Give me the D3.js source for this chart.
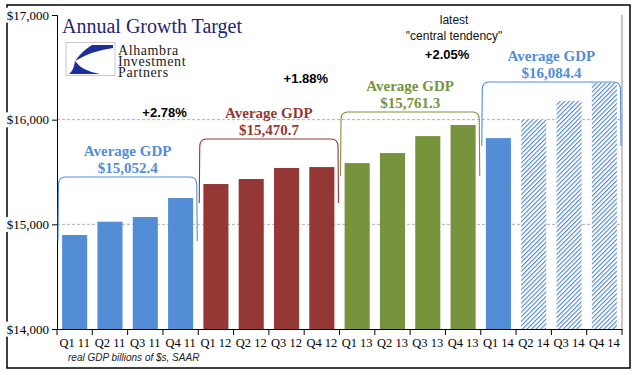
<!DOCTYPE html>
<html>
<head>
<meta charset="utf-8">
<script src="https://cdn.jsdelivr.net/npm/d3@7"></script>
<style>
  body { margin: 0; background: #fff; }
  svg { display: block; }
</style>
</head>
<body>
<div id="chart"></div>
<script>
// quarterly real GDP, billions of 2009 $
const quarters = ["Q1 11", "Q2 11", "Q3 11", "Q4 11", "Q1 12", "Q2 12", "Q3 12", "Q4 12",
                  "Q1 13", "Q2 13", "Q3 13", "Q4 13", "Q1 14", "Q2 14", "Q3 14", "Q4 14"];
const gdp = [14898, 15025, 15070, 15251, 15385, 15433, 15538, 15547,
             15585, 15681, 15843, 15949, 15824, 16003, 16180, 16352];
const projected = ["Q2 14", "Q3 14", "Q4 14"];
const groupAverages = ["$15,052.4", "$15,470.7", "$15,761.3", "$16,084.4"];
const growthLabels = ["+2.78%", "+1.88%", "+2.05%"];
const yTicks = [14000, 15000, 16000, 17000];

const groupColors = ["#538dd5", "#953735", "#77933c", "#538dd5"];
// where the "Average GDP" labels sit, in GDP units
const labelLevel = [15653, 16016, 16274, 16560];

const width = 641, height = 375;
const svg = d3.select("#chart").append("svg")
    .attr("width", width)
    .attr("height", height);

const defs = svg.append("defs");
const hatch = defs.append("pattern")
    .attr("id", "hatch")
    .attr("patternUnits", "userSpaceOnUse")
    .attr("width", 3.2)
    .attr("height", 3.2)
    .attr("patternTransform", "rotate(45)");
hatch.append("rect").attr("width", 3.2).attr("height", 3.2).attr("fill", "#fff");
hatch.append("line")
    .attr("x1", 0).attr("y1", 0).attr("x2", 0).attr("y2", 3.2)
    .attr("stroke", "#4f86cf").attr("stroke-width", 2.2);

// outer frame
svg.append("rect")
    .attr("x", 7).attr("y", 5)
    .attr("width", 623).attr("height", 363)
    .attr("fill", "#fff")
    .attr("stroke", "#000")
    .attr("stroke-width", 1.5);

const x = d3.scaleBand()
    .domain(quarters)
    .range([57, 622])
    .paddingInner(0.29)
    .paddingOuter(0.145);

const y = d3.scaleLinear()
    .domain([14000, 17000])
    .range([329, 15]);

const groupIndex = i => Math.floor(i / 4);

// gridlines
svg.append("g")
    .selectAll("line")
    .data(yTicks.filter(t => t > 14000 && t < 17000))
    .enter().append("line")
    .attr("x1", 57).attr("x2", 622)
    .attr("y1", d => y(d)).attr("y2", d => y(d))
    .attr("stroke", "#b0b0b0")
    .attr("stroke-dasharray", "3,2");

// plot area right edge
svg.append("line")
    .attr("x1", 622).attr("x2", 622)
    .attr("y1", y(17000)).attr("y2", y(14000))
    .attr("stroke", "#8c8c8c");

// bars
svg.append("g")
    .selectAll("rect")
    .data(quarters)
    .enter().append("rect")
    .attr("x", d => x(d))
    .attr("width", x.bandwidth())
    .attr("y", (d, i) => y(gdp[i]))
    .attr("height", (d, i) => y(14000) - y(gdp[i]))
    .attr("fill", (d, i) => projected.includes(d) ? "url(#hatch)" : groupColors[groupIndex(i)]);

// y axis
const yAxis = svg.append("g")
    .attr("transform", "translate(57,0)")
    .call(d3.axisLeft(y).tickValues(yTicks).tickSize(5).tickPadding(4)
        .tickFormat(d => "$" + d3.format(",")(d)));
yAxis.select(".domain").attr("stroke", "#000");
yAxis.selectAll("text")
    .attr("font-family", "'Liberation Serif', serif")
    .attr("font-size", 13)
    .attr("fill", "#000")
    .attr("x", -8)
    .each(function () {
        const b = this.getBBox();
        d3.select(this.parentNode).insert("rect", "text")
            .attr("x", b.x - 1).attr("y", b.y)
            .attr("width", b.width + 2).attr("height", b.height)
            .attr("fill", "#fff");
    });

// x axis
const xAxis = svg.append("g")
    .attr("transform", `translate(0,${y(14000)})`)
    .call(d3.axisBottom(x).tickSize(0).tickPadding(9));
xAxis.select(".domain").attr("stroke", "#000");
xAxis.selectAll("text")
    .attr("font-family", "'Liberation Serif', serif")
    .attr("font-size", 12.5)
    .attr("fill", "#000");
xAxis.append("g")
    .selectAll("line")
    .data(d3.range(quarters.length + 1))
    .enter().append("line")
    .attr("x1", i => 57 + i * x.step())
    .attr("x2", i => 57 + i * x.step())
    .attr("y1", 0).attr("y2", 6)
    .attr("stroke", "#000");

// group brackets and average labels
groupAverages.forEach((label, g) => {
    const first = quarters[g * 4], last = quarters[g * 4 + 3];
    const x0 = x(first) - x.step() * x.paddingInner() / 2 + 1;
    const x1 = x(last) + x.bandwidth() + x.step() * x.paddingInner() / 2 - 1;
    const base = y(labelLevel[g]);
    const top = base + 21, bottom = top + 64, r = 7;
    svg.append("path")
        .attr("d", `M${x0},${bottom} L${x0 + 0.5},${top + r} Q${x0 + 1},${top} ${x0 + r},${top}` +
                   ` L${x1 - r},${top} Q${x1 - 1},${top} ${x1 - 0.5},${top + r} L${x1},${bottom}`)
        .attr("fill", "none")
        .attr("stroke", groupColors[g])
        .attr("stroke-width", 1.1);
    const cx = (x0 + x1) / 2;
    const t = svg.append("text")
        .attr("x", cx)
        .attr("text-anchor", "middle")
        .attr("font-family", "'Liberation Serif', serif")
        .attr("font-weight", "bold")
        .attr("font-size", 15)
        .attr("fill", groupColors[g]);
    t.append("tspan").attr("x", cx).attr("y", base).text("Average GDP");
    t.append("tspan").attr("x", cx).attr("y", base + 17).text(label);
});

// growth rates between groups
const growthY = [117, 83, 59];
growthLabels.forEach((label, i) => {
    const q = quarters[i * 4 + 3];
    svg.append("text")
        .attr("x", x(q) + x.bandwidth() / 2 - 16)
        .attr("y", growthY[i])
        .attr("text-anchor", "middle")
        .attr("font-family", "'Liberation Sans', Arial, sans-serif")
        .attr("font-weight", "bold")
        .attr("font-size", 13)
        .attr("fill", "#000")
        .text(label);
});

const noteX = x("Q4 13") + x.bandwidth() / 2 - 9;
const note = svg.append("text")
    .attr("text-anchor", "middle")
    .attr("font-family", "'Liberation Sans', Arial, sans-serif")
    .attr("font-size", 12)
    .attr("fill", "#111");
note.append("tspan").attr("x", noteX).attr("y", 24).text("latest");
note.append("tspan").attr("x", noteX).attr("y", 40).text("\"central tendency\"");

// title
svg.append("text")
    .attr("x", 62).attr("y", 33)
    .attr("font-family", "'Liberation Serif', serif")
    .attr("font-size", 20)
    .attr("fill", "#1f2576")
    .text("Annual Growth Target");

// logo
const logo = svg.append("g");
logo.append("rect")
    .attr("x", 66).attr("y", 42.5)
    .attr("width", 49).attr("height", 33)
    .attr("fill", "#fff")
    .attr("stroke", "#c8c8c8");
logo.append("path")
    .attr("d", "M113,45 L92,45 Q82,51 75,61 Q91,51 113,48 Z")
    .attr("fill", "#1b2e9a");
logo.append("path")
    .attr("d", "M75,61 Q74,70 69,74 L100,74 Q82,71 75,61 Z")
    .attr("fill", "#1b2e9a");
const logoText = logo.append("text")
    .attr("font-family", "'Liberation Serif', serif")
    .attr("font-size", 14)
    .attr("letter-spacing", 0.6)
    .attr("fill", "#1a1a1a");
["Alhambra", "Investment", "Partners"].forEach((w, i) => {
    logoText.append("tspan").attr("x", 118).attr("y", 55 + i * 11).text(w);
});

// footnote
svg.append("text")
    .attr("x", 68).attr("y", 361)
    .attr("font-family", "'Liberation Sans', Arial, sans-serif")
    .attr("font-style", "italic")
    .attr("font-size", 10)
    .attr("fill", "#222")
    .text("real GDP billions of $s, SAAR");
</script>
</body>
</html>
